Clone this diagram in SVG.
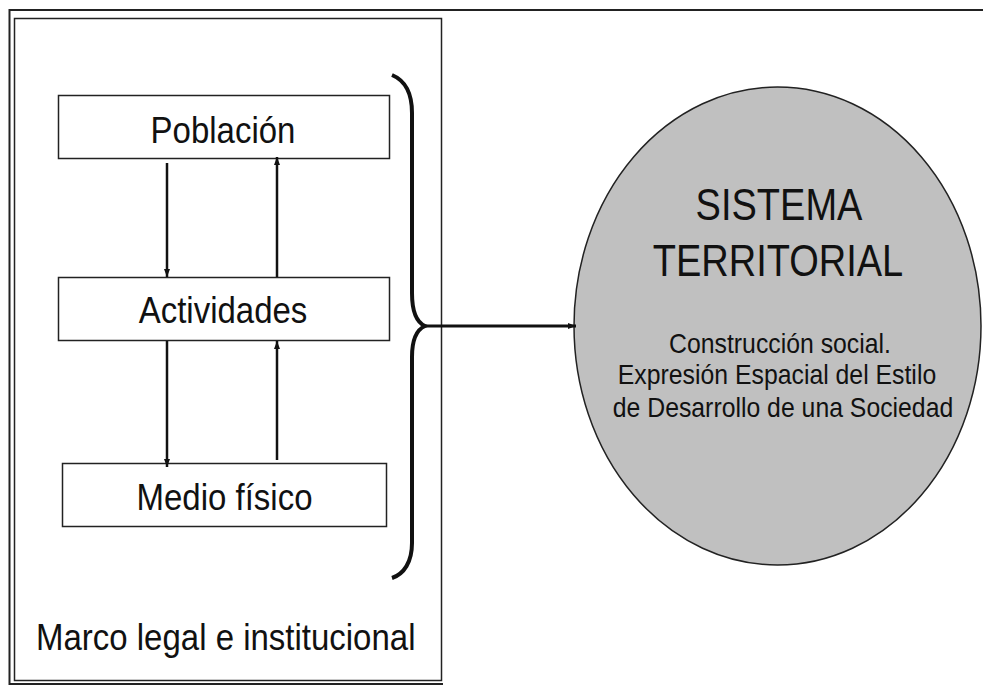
<svg xmlns="http://www.w3.org/2000/svg" width="983" height="685" viewBox="0 0 983 685">
<style>
.box{fill:#fff;stroke:#222;stroke-width:1.5}
.lbl{font-family:"Liberation Sans",Arial,sans-serif;font-size:33px;fill:#111;text-anchor:middle}
.big{font-family:"Liberation Sans",Arial,sans-serif;font-size:38px;fill:#111;text-anchor:middle}
.sub{font-family:"Liberation Sans",Arial,sans-serif;font-size:24.8px;fill:#111;text-anchor:middle}
.arr{stroke:#111;stroke-width:2.5;fill:none}
</style>
<defs>
<marker id="ah" markerUnits="userSpaceOnUse" markerWidth="8" markerHeight="8" viewBox="0 0 8 8" refX="8" refY="4" orient="auto">
<path d="M0,1 L8,4 L0,7 Z" fill="#111"/>
</marker>
</defs>
<g id="frame">
<path d="M983,10 H9.5 V684 H443" fill="none" stroke="#222" stroke-width="2"/>
<rect x="14.5" y="18.5" width="427" height="662" fill="#fff" stroke="#222" stroke-width="1.5"/>
</g>
<g id="poblacion">
<rect class="box" x="58.5" y="95.5" width="331" height="63"/>
<text class="lbl" transform="translate(223,143) scale(1,1.1)">Población</text>
</g>
<g id="actividades">
<rect class="box" x="58.5" y="277.5" width="331" height="63"/>
<text class="lbl" transform="translate(223,323) scale(1,1.1)">Actividades</text>
</g>
<g id="medio">
<rect class="box" x="62.5" y="463.5" width="324" height="63"/>
<text class="lbl" transform="translate(224.5,510) scale(1,1.1)">Medio físico</text>
</g>
<g id="marco">
<text class="lbl" style="text-anchor:start" transform="translate(36,650) scale(1,1.12)">Marco legal e institucional</text>
</g>
<g id="sistema">
<ellipse cx="777.5" cy="326" rx="203.5" ry="239" fill="#c0c0c0" stroke="#222" stroke-width="1.5"/>
<text class="big" transform="translate(779,220) scale(1,1.17)">SISTEMA</text>
<text class="big" transform="translate(778,276) scale(1,1.17)">TERRITORIAL</text>
<text class="sub" transform="translate(780,353) scale(1,1.15)">Construcción social.</text>
<text class="sub" transform="translate(777,384) scale(1,1.15)">Expresión Espacial del Estilo</text>
<text class="sub" transform="translate(783,417) scale(1,1.15)">de Desarrollo de una Sociedad</text>
</g>
<g id="connectors">
<line class="arr" x1="167" y1="163" x2="167" y2="277" marker-end="url(#ah)"/>
<line class="arr" x1="277" y1="277" x2="277" y2="157" marker-end="url(#ah)"/>
<line class="arr" x1="167" y1="341" x2="167" y2="467" marker-end="url(#ah)"/>
<line class="arr" x1="277" y1="460" x2="277" y2="341" marker-end="url(#ah)"/>
<path d="M392,75 C404,80 412,92 412,113 L412,293 C412,312 416,322 425,326 C416,330 412,340 412,357 L412,543 C412,562 404,574 392,578" fill="none" stroke="#111" stroke-width="4"/>
<line x1="425" y1="326" x2="576" y2="326" stroke="#111" stroke-width="3" marker-end="url(#ah)"/>
</g>
</svg>
